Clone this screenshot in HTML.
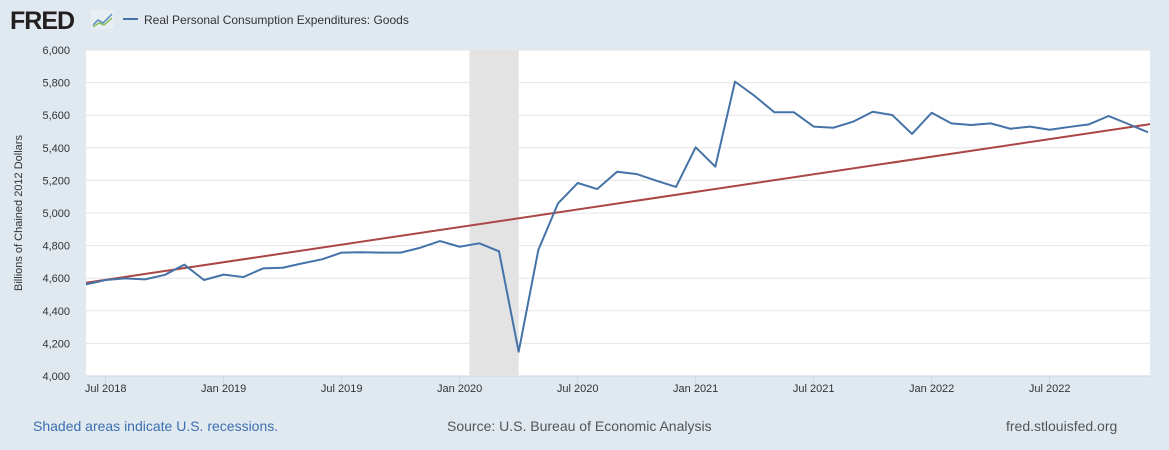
<!DOCTYPE html>
<html><head><meta charset="utf-8"><style>
body{margin:0;width:1169px;height:450px;background:#e1e9f0;font-family:"Liberation Sans",sans-serif;overflow:hidden}
svg{position:absolute;left:0;top:0}
</style></head><body>
<svg width="1169" height="450" id="chart">
<text x="10" y="29" font-size="25" font-weight="bold" fill="#231f20" letter-spacing="-1">FRED</text>
<g><rect x="91" y="10" width="23" height="19" fill="#e8eef3"/><polyline points="93,25 98,20 103,23 112,14" fill="none" stroke="#5b8dc0" stroke-width="1.5"/><polyline points="93,27 99,23 104,25 112,18" fill="none" stroke="#8cbf5a" stroke-width="1.5"/></g>
<line x1="123" y1="19" x2="138" y2="19" stroke="#4572a7" stroke-width="2"/>
<text x="144" y="24" font-size="12" fill="#333">Real Personal Consumption Expenditures: Goods</text>
<rect x="86" y="50" width="1064" height="326" fill="#fff"/>
<g id="grid"></g><g id="rec"></g><g id="yt"></g><g id="xt"></g><g id="lines"></g>
<text transform="translate(22,213) rotate(-90)" font-size="11" fill="#333" text-anchor="middle">Billions of Chained 2012 Dollars</text>
<text x="33" y="431" font-size="14" fill="#3b6fb0">Shaded areas indicate U.S. recessions.</text>
<text x="447" y="431" font-size="14" fill="#555">Source: U.S. Bureau of Economic Analysis</text>
<text x="1006" y="431" font-size="14" fill="#555">fred.stlouisfed.org</text>
</svg>
<script>
const values=[4562,4589,4599,4593,4620,4683,4589,4622,4607,4660,4664,4691,4716,4757,4759,4757,4757,4787,4828,4793,4814,4765,4149,4773,5059,5184,5147,5253,5239,5198,5160,5403,5284,5806,5718,5618,5618,5530,5523,5560,5621,5601,5485,5615,5550,5540,5550,5517,5530,5511,5528,5544,5595,5546,5495];
const trendStart=4572, trendEnd=5545;
const yTicks=[4000,4200,4400,4600,4800,5000,5200,5400,5600,5800,6000];
const xTickLabels=["Jul 2018","Jan 2019","Jul 2019","Jan 2020","Jul 2020","Jan 2021","Jul 2021","Jan 2022","Jul 2022"];
const xTickIdx=[1,7,13,19,25,31,37,43,49];
const recession=[19.5,22];
const NS="http://www.w3.org/2000/svg";
const X=i=>86+i*(1148-86)/(values.length-1);
const Y=v=>376-(v-4000)*0.163;
function mk(t,a,p){const e=document.createElementNS(NS,t);for(const k in a)e.setAttribute(k,a[k]);document.getElementById(p).appendChild(e);return e;}
yTicks.forEach(v=>{
 const l=mk('line',{x1:86,x2:1150,y1:Y(v),y2:Y(v),stroke:v===4000?'#ccd6eb':'#e6e6e6','stroke-width':1},'grid');
 
 
 const t=mk('text',{x:70,y:Y(v)+4,'font-size':11,fill:'#333','text-anchor':'end'},'yt');
 t.textContent=v.toLocaleString('en-US');
 
 
});
const r=mk('rect',{x:X(recession[0]),y:50,width:X(recession[1])-X(recession[0]),height:326,fill:'#e3e3e3'},'rec');


xTickLabels.forEach((s,k)=>{
 const x=X(xTickIdx[k]);
 const l=mk('line',{x1:x,x2:x,y1:376,y2:386,stroke:'#ccd6eb'},'xt');
 
 
 const t=mk('text',{x:x,y:392,'font-size':11,fill:'#333','text-anchor':'middle'},'xt');
 t.textContent=s;
 
 
});
const tl=mk('line',{x1:X(0),y1:Y(trendStart),x2:1150,y2:Y(trendEnd),stroke:'#aa4643','stroke-width':2},'lines');


const pl=mk('polyline',{points:values.map((v,i)=>X(i)+','+Y(v)).join(' '),fill:'none',stroke:'#4572a7','stroke-width':2,'stroke-linejoin':'round'},'lines');


</script>
</body></html>
